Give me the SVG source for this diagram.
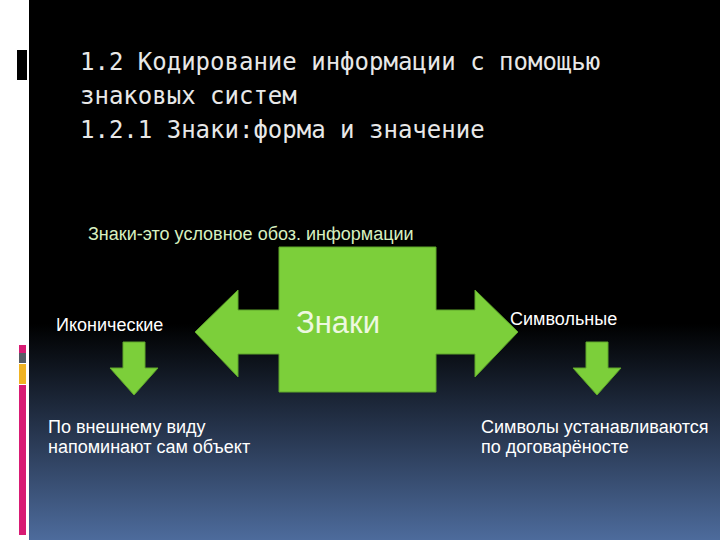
<svg xmlns="http://www.w3.org/2000/svg" width="720" height="540" viewBox="0 0 720 540">
<defs>
<linearGradient id="bg" x1="0" y1="0" x2="0" y2="1">
<stop offset="0" stop-color="#000"/><stop offset="0.6" stop-color="#000"/><stop offset="1" stop-color="#4d6b9c"/>
</linearGradient>
<style>
.t{font-family:"DejaVu Sans Mono","Liberation Mono",monospace;font-size:24px;fill:#e8e8e8}
.s{font-family:"Liberation Sans",Arial,sans-serif;font-size:18px;fill:#fff}
.g{fill:#7ccf3a;stroke:#5ea52a;stroke-width:1}
</style>
</defs>
<rect width="720" height="540" fill="#fff"/>
<rect x="29" width="691" height="540" fill="url(#bg)"/>
<rect x="17" y="50" width="10" height="30" fill="#000"/>
<rect x="19" y="345" width="7" height="8" fill="#d81b74"/>
<rect x="19" y="353" width="7" height="10" fill="#555d66"/>
<rect x="19" y="364" width="7" height="20" fill="#f0b323"/>
<rect x="19" y="385" width="7" height="150" fill="#d81b74"/>
<g id="title">
<text class="t" x="80" y="70">1.2 Кодирование информации с помощью</text>
<text class="t" x="80" y="104">знаковых систем</text>
<text class="t" x="80" y="138">1.2.1 Знаки:форма и значение</text>
</g>
<text class="s" x="88" y="240" style="fill:#d8f0c0">Знаки-это условное обоз. информации</text>
<g id="znaki">
<polygon class="g" points="279,247 436,247 436,310 475,310 475,290 518,332 475,377 475,354 436,354 436,392 279,392 279,354 238,354 238,377 195,332 238,290 238,310 279,310"/>
<text x="296" y="333" font-family="Liberation Sans,Arial,sans-serif" font-size="31" fill="#eef8e0">Знаки</text>
</g>
<g id="ikon"><text class="s" x="56" y="331">Иконические</text></g>
<g id="simv"><text class="s" x="510" y="325">Символьные</text></g>
<g id="ikon2"><text class="s" x="48" y="433">По внешнему виду</text><text class="s" x="48" y="453">напоминают сам объект</text></g>
<g id="simv2"><text class="s" x="481" y="433">Символы устанавливаются</text><text class="s" x="481" y="453">по договарёносте</text></g>
<g id="connectors">
<polygon class="g" points="123,342 145,342 145,368 158,368 134,395 110,368 123,368"/>
<polygon class="g" points="586,342 608,342 608,368 621,368 597,395 573,368 586,368"/>
</g>
</svg>
